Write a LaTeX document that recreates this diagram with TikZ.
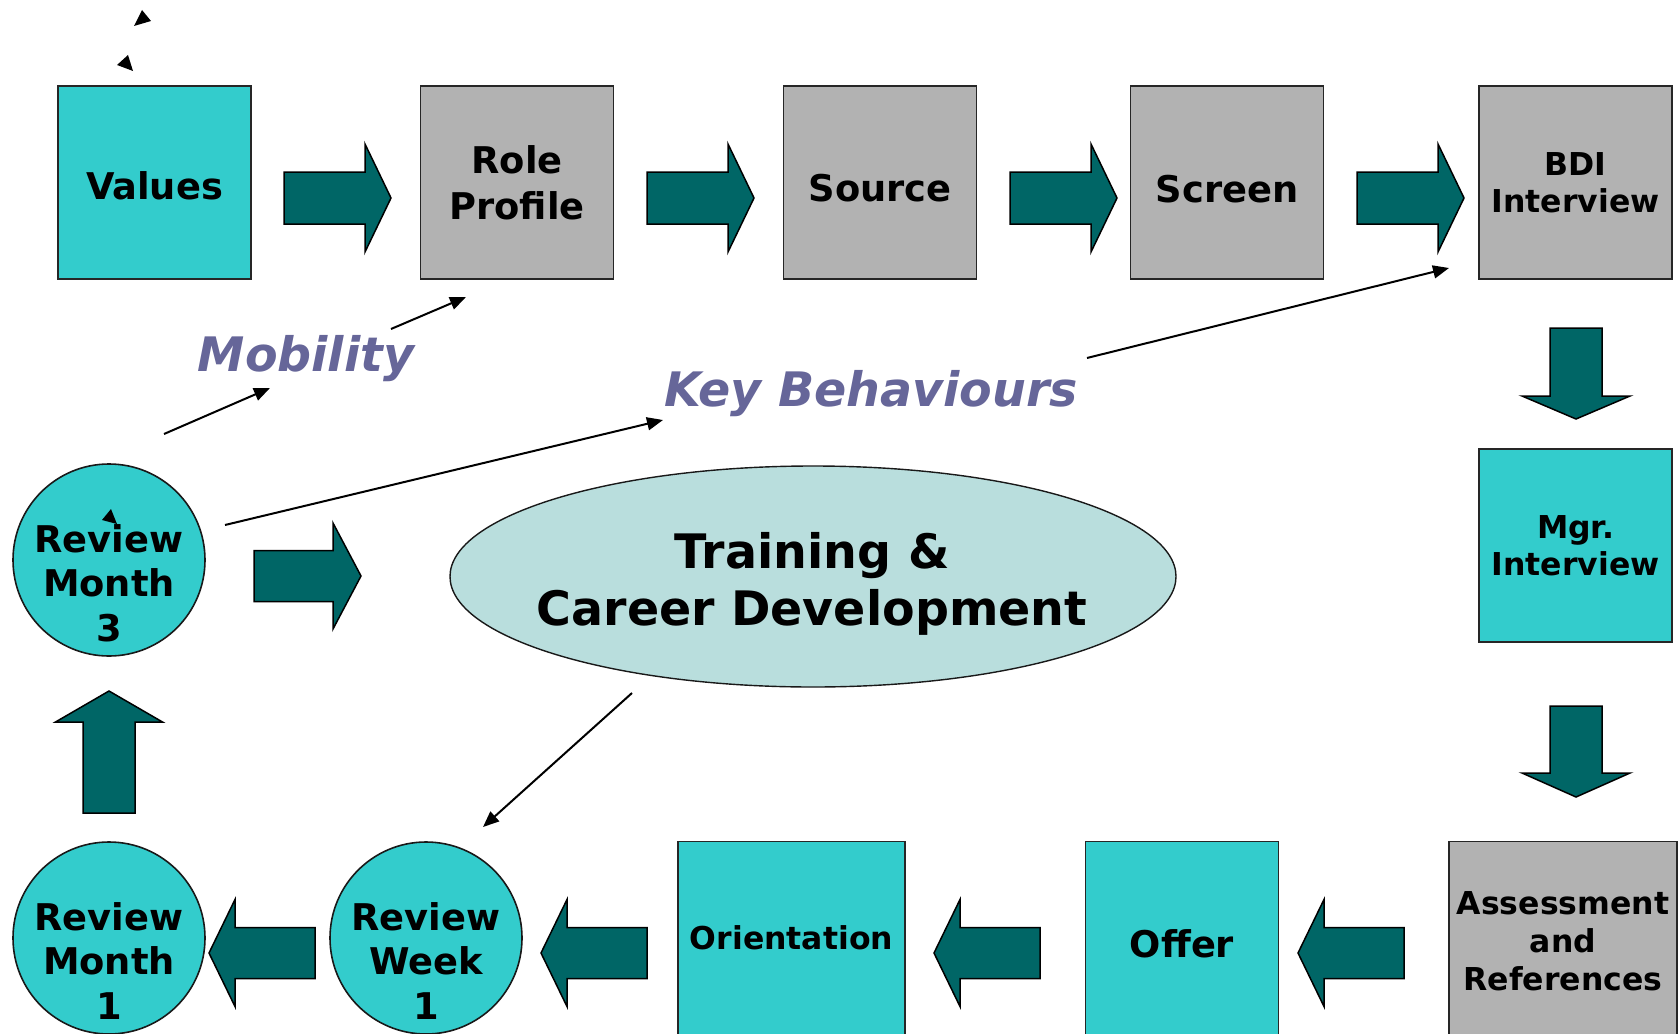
\documentclass[tikz,border=0pt]{standalone}
\usepackage{fontspec}
\setmainfont{DejaVu Sans}
\usetikzlibrary{shapes.geometric,arrows.meta}
\definecolor{cyanbox}{HTML}{33CCCC}
\definecolor{graybox}{HTML}{B2B2B2}
\definecolor{darkteal}{HTML}{006666}
\definecolor{ellfill}{HTML}{B9DEDD}
\definecolor{labelblue}{HTML}{666699}
\begin{document}
\begin{tikzpicture}[x=1pt,y=-1pt,
  bigfont/.style={font=\bfseries\fontsize{36.8}{46}\selectfont},
  smallfont/.style={font=\bfseries\fontsize{31.5}{37.5}\selectfont},
  boxbase/.style={draw=black!85, line width=1.6pt, minimum width=193pt, minimum height=193pt, inner sep=0pt, align=center, bigfont},
  cbox/.style={boxbase, fill=cyanbox},
  gbox/.style={boxbase, fill=graybox},
  low/.style={text height=#1, text depth=0pt},
  circ/.style={circle, draw=black!90, line width=1.6pt, fill=cyanbox, minimum size=192pt, inner sep=0pt},
  circtext/.style={align=center, inner sep=0pt, font=\bfseries\fontsize{36.8}{44.5}\selectfont},
  lbl/.style={text=labelblue, inner sep=0pt, font=\bfseries\itshape\fontsize{47.5}{57}\selectfont},
  conn/.style={draw=black, line width=2pt, -{Triangle[length=16pt,width=13pt]}},
  barrowstyle/.style={fill=darkteal, draw=black, line width=1.5pt, line join=miter},
  pics/barrow/.style n args={4}{code={
    \draw[barrowstyle] (0,-#3) -- ({#1-#2},-#3) -- ({#1-#2},-#4) -- (#1,0) -- ({#1-#2},#4) -- ({#1-#2},#3) -- (0,#3) -- cycle;}}
]
\useasboundingbox[fill=white] (0,0) rectangle (1680,1033);

% top row
\node[cbox, low=33pt] (values) at (154.5,182.5) {Values};
\node[gbox] (role) at (517,182.5) {Role\\Profile};
\node[gbox, low=37pt] (source) at (880,182.5) {Source};
\node[gbox, low=39pt] (screen) at (1227,182.5) {Screen};
\node[gbox, smallfont] (bdi) at (1575.5,182.5) {BDI\\Interview};

% right column
\node[cbox, smallfont] (mgr) at (1575.5,545.5) {Mgr.\\Interview};

% bottom row
\node[gbox, smallfont, minimum width=228pt] (assess) at (1563,938) {};
\node[align=center, inner sep=0pt, smallfont, font=\bfseries\fontsize{31.5}{38}\selectfont] (assesst) at (1563,941) {Assessment\\and\\References};
\node[cbox, low=38pt] (offer) at (1182,938) {Offer};
\node[cbox, smallfont, minimum width=227pt] (orient) at (791.5,938) {Orientation};
\node[circ] (rw1) at (426,938) {};
\node[circtext] (rw1t) at (426,961) {Review\\Week\\1};
\node[circ] (rm1) at (109,938) {};
\node[circtext] (rm1t) at (109,961) {Review\\Month\\1};

% left
\node[circ] (rm3) at (109,560) {};
\node[circtext] (rm3t) at (109,583) {Review\\Month\\3};

% centre ellipse
\node[ellipse, draw=black!90, line width=1.4pt, fill=ellfill, minimum width=726pt, minimum height=221pt, inner sep=0pt] (ell) at (813,576.5) {};
\node[align=center, inner sep=0pt, font=\bfseries\fontsize{47.5}{57}\selectfont] (ellt) at (812,584) {Training \&\\Career Development};

% labels
\node[lbl, anchor=base] (mob) at (306,371) {Mobility};
\node[lbl, anchor=base] (kb) at (871,406) {Key Behaviours};

% block arrows
\pic at (284,198) {barrow={107}{26}{26}{54}};
\pic at (647,198) {barrow={107}{26}{26}{54}};
\pic at (1010,198) {barrow={107}{26}{26}{54}};
\pic at (1357,198) {barrow={107}{26}{26}{54}};
\pic[rotate=-90] at (1576,328) {barrow={91}{23}{26}{54}};
\pic[rotate=-90] at (1576,706) {barrow={91}{24}{26}{54}};
\pic[rotate=180] at (1404,953) {barrow={106}{26}{25.5}{53.5}};
\pic[rotate=180] at (1040,953) {barrow={106}{26}{25.5}{53.5}};
\pic[rotate=180] at (647,953) {barrow={106}{26}{25.5}{53.5}};
\pic[rotate=180] at (315,953) {barrow={106}{26}{25.5}{53.5}};
\pic[rotate=90] at (109,813) {barrow={122}{31}{26}{53.5}};
\pic at (254,576) {barrow={107}{28}{25.5}{53}};

% thin connectors
\coordinate (m1s) at (164,434);
\coordinate (m1e) at (270,388);
\coordinate (m2s) at (391,329);
\coordinate (m2e) at (466,297);
\coordinate (k1s) at (225,525);
\coordinate (k1e) at (663,420);
\coordinate (k2s) at (1087,358);
\coordinate (k2e) at (1449,268);
\coordinate (e1s) at (632,693);
\coordinate (e1e) at (483,827);
\draw[conn] (m1s) -- (m1e);
\draw[conn] (m2s) -- (m2e);
\draw[conn] (k1s) -- (k1e);
\draw[conn] (k2s) -- (k2e);
\draw[conn] (e1s) -- (e1e);

% stray arrowheads
\fill[black] (134,26) -- (151,21) -- (142,10) -- cycle;
\fill[black] (117,65) -- (133,71) -- (128,55) -- cycle;
\fill[black] (102,520) -- (117,524) -- (111,509) -- cycle;
\end{tikzpicture}
\end{document}
